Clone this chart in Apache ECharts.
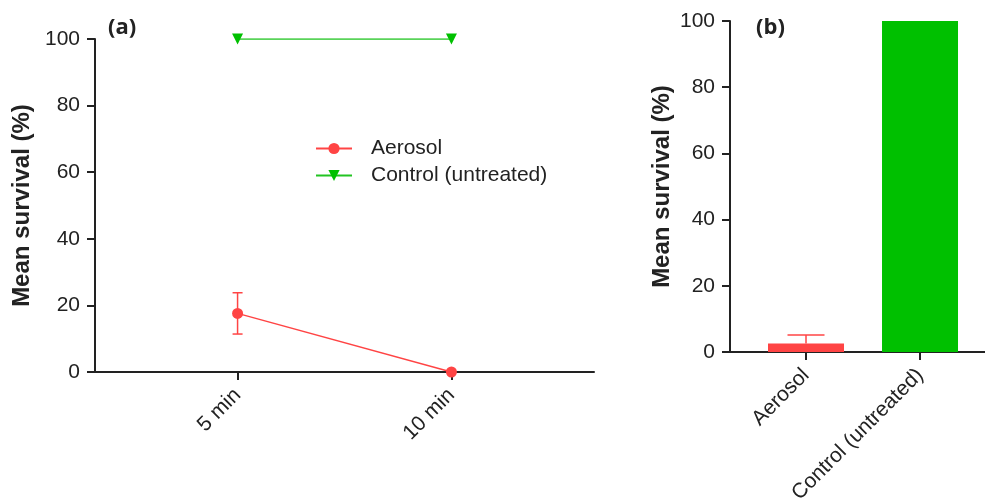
<!DOCTYPE html>
<html>
<head>
<meta charset="utf-8">
<script src="https://cdn.jsdelivr.net/npm/echarts@6/dist/echarts.min.js"></script>
<style>
  html, body { margin: 0; padding: 0; background: #fff; }
  #chart { width: 985px; height: 500px; }
</style>
</head>
<body>
<div id="chart"></div>
<script>
// panel (a): time course, padded with empty slots so the points sit where they do in the figure
const timeSlots = ['', '', '5 min', '', '', '10 min', '', ''];
const aerosolMean = ['-', '-', 17.6, '-', '-', 0, '-', '-'];
const aerosolErr = ['-', '-', 6.2, '-', '-', 0, '-', '-'];
const controlMean = ['-', '-', 100, '-', '-', 100, '-', '-'];

// panel (b): bar comparison, same slot idea (index in the list = slot on the axis)
const groups = ['', '', 'Aerosol', '', '', 'Control (untreated)'];
const groupMean = ['-', '-', 2.6, '-', '-', 100];
const groupErr = ['-', '-', 2.5, '-', '-', 0];

const RED = '#ff4444';
const GREEN = '#00c000';
const INK = '#222';
const FONT = '"Liberation Sans", Arial, sans-serif';

function errorBars(xIdx, yIdx, means, errs, capW, bothSides) {
  const pts = means.map((m, i) => [i, m, errs[i]]).filter(d => d[1] !== '-' && d[2] > 0);
  return {
    type: 'custom',
    xAxisIndex: xIdx,
    yAxisIndex: yIdx,
    silent: true,
    z: 1,
    data: pts,
    renderItem: (params, api) => {
      const x = api.value(0), m = api.value(1), e = api.value(2);
      const top = api.coord([x, m + e]);
      const bot = api.coord([x, bothSides ? m - e : m]);
      const style = { stroke: RED, lineWidth: 1.5 };
      const kids = [
        { type: 'line', shape: { x1: top[0], y1: top[1], x2: bot[0], y2: bot[1] }, style },
        { type: 'line', shape: { x1: top[0] - capW / 2, y1: top[1], x2: top[0] + capW / 2, y2: top[1] }, style }
      ];
      if (bothSides) {
        kids.push({ type: 'line', shape: { x1: bot[0] - capW / 2, y1: bot[1], x2: bot[0] + capW / 2, y2: bot[1] }, style });
      }
      return { type: 'group', children: kids };
    }
  };
}

const yAxisBase = {
  type: 'value',
  min: 0,
  max: 100,
  interval: 20,
  name: 'Mean survival (%)',
  nameLocation: 'middle',
  nameRotate: 90,
  nameGap: 56,
  nameTextStyle: { fontFamily: FONT, fontSize: 24, fontWeight: 'bold', color: INK },
  axisLine: { show: true, lineStyle: { color: INK, width: 2 } },
  axisTick: { show: true, length: 8, lineStyle: { color: INK, width: 2 } },
  axisLabel: { fontFamily: FONT, fontSize: 21, color: INK, margin: 15 },
  splitLine: { show: false }
};

const xLine = { show: true, onZero: false, lineStyle: { color: INK, width: 2 } };
const xTick = { show: true, length: 8, lineStyle: { color: INK, width: 2 } };
const xLabel = { fontFamily: FONT, fontSize: 21, color: INK, rotate: 45, margin: 20 };
const labelSlots = groups.map((g, i) => (g ? i : null)).filter(v => v !== null);

const chart = echarts.init(document.getElementById('chart'), null, { renderer: 'canvas' });

chart.setOption({
  backgroundColor: '#fff',
  animation: false,
  grid: [
    { left: 95, top: 39, width: 499, bottom: 128, outerBoundsMode: 'none', containLabel: false },
    { left: 730, top: 21, right: 0, bottom: 148, outerBoundsMode: 'none', containLabel: false }
  ],
  xAxis: [
    {
      type: 'category',
      gridIndex: 0,
      data: timeSlots,
      boundaryGap: false,
      axisLine: xLine,
      axisTick: { ...xTick, interval: (i, v) => v !== '' },
      axisLabel: { ...xLabel, interval: (i, v) => v !== '' },
      splitLine: { show: false }
    },
    {
      type: 'value',
      gridIndex: 1,
      min: 0,
      max: 6.71,
      axisLine: xLine,
      axisTick: { ...xTick, customValues: labelSlots },
      axisLabel: {
        ...xLabel,
        customValues: labelSlots,
        formatter: v => groups[Math.round(v)] || ''
      },
      splitLine: { show: false }
    }
  ],
  yAxis: [
    { ...yAxisBase, gridIndex: 0 },
    { ...yAxisBase, gridIndex: 1 }
  ],
  legend: {
    data: ['Aerosol', 'Control (untreated)'],
    orient: 'vertical',
    left: 310,
    top: 133,
    itemWidth: 36,
    itemHeight: 14,
    itemGap: 6,
    symbolRotate: 'inherit',
    textStyle: { fontFamily: FONT, fontSize: 21, color: INK, padding: [0, 0, 0, 14] }
  },
  graphic: [
    { type: 'text', left: 108, top: 17, style: { text: '(a)', font: 'bold 22px "Open Sans", sans-serif', fill: INK } },
    { type: 'text', left: 756, top: 17, style: { text: '(b)', font: 'bold 22px "Open Sans", sans-serif', fill: INK } }
  ],
  series: [
    {
      name: 'Aerosol',
      type: 'line',
      xAxisIndex: 0, yAxisIndex: 0,
      data: aerosolMean,
      connectNulls: true,
      symbol: 'circle',
      symbolSize: 11,
      color: RED,
      lineStyle: { width: 1.5, color: RED },
      itemStyle: { color: RED },
      z: 3
    },
    {
      name: 'Control (untreated)',
      type: 'line',
      xAxisIndex: 0, yAxisIndex: 0,
      data: controlMean,
      connectNulls: true,
      symbol: 'triangle',
      symbolRotate: 180,
      symbolSize: 11,
      color: GREEN,
      lineStyle: { width: 1.5, color: '#22c422' },
      itemStyle: { color: GREEN },
      z: 3
    },
    errorBars(0, 0, aerosolMean, aerosolErr, 10, true),
    {
      name: 'Mean survival',
      type: 'bar',
      xAxisIndex: 1, yAxisIndex: 1,
      barWidth: 76,
      data: groupMean
        .map((v, i) => ({ value: [i, v], itemStyle: { color: i === 2 ? RED : GREEN } }))
        .filter(d => d.value[1] !== '-'),
      z: 2
    },
    errorBars(1, 1, groupMean, groupErr, 37, false)
  ]
});
</script>
</body>
</html>
